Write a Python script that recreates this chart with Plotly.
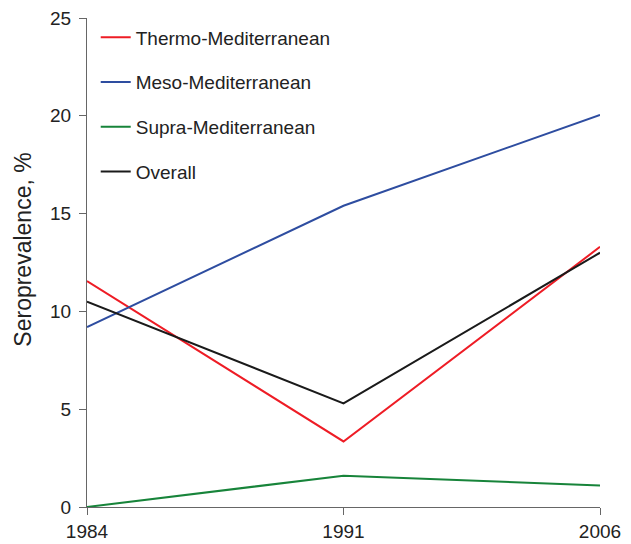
import plotly.graph_objects as go

years = ["1984", "1991", "2006"]
thermo = [11.55, 3.35, 13.3]
meso = [9.2, 15.4, 20.05]
supra = [0.0, 1.6, 1.1]
overall = [10.5, 5.3, 13.0]

names = ["Thermo-Mediterranean", "Meso-Mediterranean", "Supra-Mediterranean", "Overall"]
series = [thermo, meso, supra, overall]
colors = ["#ee1c25", "#2e4da0", "#17843a", "#1a1a1a"]

fig = go.Figure()
for i, (n, s, c) in enumerate(zip(names, series, colors)):
    fig.add_trace(go.Scatter(x=years, y=s, mode="lines", name=n,
                             line=dict(color=c, width=2), legendgroup=f"g{i}"))

fig.add_annotation(text="Seroprevalence, %", textangle=-90, showarrow=False,
                   xref="paper", yref="paper", x=-0.125, y=0.526,
                   xanchor="center", yanchor="middle", font=dict(size=23))

fig.update_layout(
    width=631, height=544,
    margin=dict(l=79, r=39, t=10, b=45, autoexpand=False),
    plot_bgcolor="white", paper_bgcolor="white",
    font=dict(family="Liberation Sans, Arial, sans-serif", size=19, color="#222222"),
    showlegend=True,
    legend=dict(x=0.017, y=0.999, xanchor="left", yanchor="top",
                bgcolor="rgba(0,0,0,0)", tracegroupgap=17,
                font=dict(size=19), itemwidth=30),
    xaxis=dict(type="category", range=[0, 2], showline=True, linecolor="#666666",
               linewidth=1.2, ticks="outside", ticklen=7, tickcolor="#666666",
               showgrid=False, zeroline=False, tickfont=dict(size=19), automargin=False,
               ticklabeloverflow="allow"),
    yaxis=dict(range=[0, 25], dtick=5, showline=True, linecolor="#666666",
               linewidth=1.2, ticks="outside", ticklen=7, tickcolor="#666666",
               showgrid=False, zeroline=False, tickfont=dict(size=19), automargin=False,
               ticklabelstandoff=4, ticklabeloverflow="allow"),
)

fig.write_html("out.html")
